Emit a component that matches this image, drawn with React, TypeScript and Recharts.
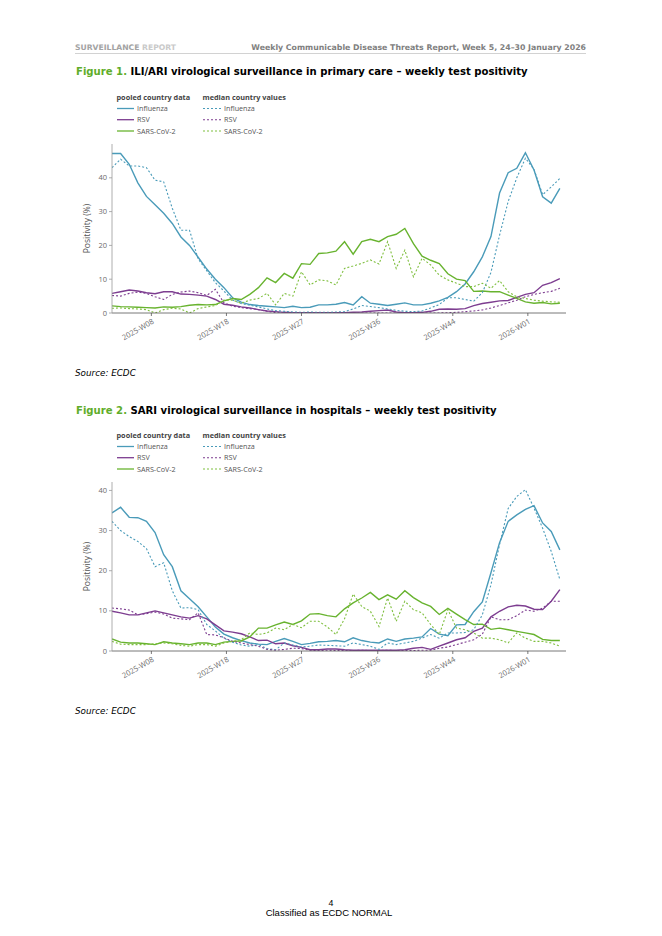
import React from 'react';
import { LineChart, Line, XAxis, YAxis, Label } from 'recharts';

// ---------- categories ----------
const weeks = [
  '2025-W04','2025-W05','2025-W06','2025-W07','2025-W08','2025-W09','2025-W10','2025-W11','2025-W12','2025-W13',
  '2025-W14','2025-W15','2025-W16','2025-W17','2025-W18','2025-W19','2025-W20','2025-W21','2025-W22','2025-W23',
  '2025-W24','2025-W25','2025-W26','2025-W27','2025-W28','2025-W29','2025-W30','2025-W31','2025-W32','2025-W33',
  '2025-W34','2025-W35','2025-W36','2025-W37','2025-W38','2025-W39','2025-W40','2025-W41','2025-W42','2025-W43',
  '2025-W44','2025-W45','2025-W46','2025-W47','2025-W48','2025-W49','2025-W50','2025-W51','2025-W52','2026-W01',
  '2026-W02','2026-W03','2026-W04',
];
// tick positions in days after the first week-ending date
const tickDays = [32, 93, 154, 216, 277, 338];
const tickLabels = ['2025-W08', '2025-W18', '2025-W27', '2025-W36', '2025-W44', '2026-W01'];
const yTicks1 = [0, 10, 20, 30, 40];
const yTicks2 = [0, 10, 20, 30, 40];

// ---------- Figure 1: ILI/ARI primary care ----------
const fluPooled1 = [47.2,47.2,44.0,38.5,34.5,32.0,29.5,26.5,22.5,20.0,16.5,13.0,10.0,7.5,4.5,3.2,2.5,2.2,2.0,1.8,1.6,2.0,1.6,1.7,2.4,2.4,2.6,3.1,2.4,4.8,2.9,2.6,2.2,2.6,3.0,2.4,2.4,2.9,3.6,4.6,6.3,8.6,12.2,16.6,22.6,35.5,41.5,42.8,47.4,42.3,34.4,32.5,36.9];
const fluMedian1 = [43.0,45.5,43.5,43.5,43.0,39.3,38.8,31.0,24.5,24.5,16.0,12.5,9.0,6.5,3.8,2.8,2.3,1.8,1.2,0.7,0.5,0.3,0.2,0.3,0.2,0.2,0.3,0.4,1.2,2.2,1.9,1.6,1.2,0.8,0.5,0.4,0.6,1.5,2.5,4.5,4.5,4.0,3.5,6.0,12.0,23.0,33.0,40.0,45.8,42.5,35.0,37.3,39.8];
const rsvPooled1 = [5.8,6.3,6.8,6.5,6.0,5.7,6.3,6.3,5.6,5.5,5.3,5.0,4.0,2.6,2.3,1.8,1.5,1.0,0.6,0.4,0.2,0.1,0.1,0.1,0.1,0.1,0.1,0.1,0.2,0.3,0.5,0.7,0.9,0.3,0.1,0.1,0.2,0.5,1.1,1.2,1.1,1.3,2.2,2.8,3.2,3.6,3.7,4.6,5.5,6.0,8.2,9.0,10.2];
const rsvMedian1 = [5.2,5.0,5.8,6.2,5.8,4.8,4.0,5.5,6.2,6.5,6.0,5.2,7.0,3.0,2.0,1.6,1.3,1.0,0.5,0.1,0.0,0.0,0.0,0.0,0.0,0.0,0.0,0.0,0.0,0.0,0.0,0.0,0.0,0.0,0.0,0.0,0.0,0.0,0.0,0.1,0.2,0.4,0.6,0.9,1.5,2.2,3.0,3.8,4.8,5.5,6.0,6.4,7.3];
const sarsPooled1 = [2.1,1.9,1.8,1.7,1.6,1.5,1.8,1.7,1.9,2.3,2.5,2.4,2.5,3.6,4.3,4.0,5.5,7.5,10.4,9.0,11.7,10.3,14.6,14.4,17.6,17.8,18.3,21.1,17.4,21.1,21.8,21.1,22.6,23.3,25.0,20.5,16.8,15.6,14.6,11.6,10.0,9.6,6.4,6.5,6.3,6.3,5.3,4.3,3.3,2.9,3.1,2.7,2.9];
const sarsMedian1 = [1.4,1.5,1.3,1.2,1.0,0.0,1.0,1.4,1.2,0.0,1.3,1.8,2.2,3.8,3.8,2.9,3.8,4.3,5.8,2.4,5.8,5.0,12.2,8.3,9.8,9.5,8.3,13.2,13.9,14.7,15.7,14.5,21.1,13.2,18.6,10.7,16.2,14.2,11.2,9.8,8.8,7.8,7.8,8.8,7.3,9.6,6.3,4.8,4.3,3.8,3.5,3.3,3.2];

// ---------- Figure 2: SARI hospitals ----------
const fluPooled2 = [34.4,35.8,33.3,33.2,32.3,29.5,24.0,21.0,15.0,13.0,11.0,8.5,6.0,4.2,3.3,2.6,2.0,1.7,1.6,2.4,3.1,2.4,1.6,1.9,2.3,2.4,2.6,2.3,3.3,2.6,2.2,2.0,3.0,2.4,3.0,3.2,3.5,5.6,4.2,3.8,6.5,6.6,9.8,12.2,19.5,27.0,32.3,33.9,35.3,36.2,31.9,29.8,25.2];
const fluMedian2 = [32.3,30.0,28.5,27.3,25.5,21.0,22.0,15.0,10.7,10.8,10.3,6.6,5.0,3.2,2.2,1.5,1.2,1.6,0.6,0.3,2.0,1.5,1.0,1.2,1.5,1.4,1.3,1.2,2.0,1.6,1.2,0.4,2.0,1.6,2.0,2.4,3.2,4.1,3.2,4.5,4.5,4.6,5.3,9.0,16.5,26.5,35.5,38.5,40.2,35.6,30.6,24.8,17.8];
const rsvPooled2 = [9.9,9.5,9.0,9.0,9.5,10.0,9.5,9.0,8.5,8.2,8.8,8.0,6.5,5.0,4.7,4.3,3.5,2.6,2.7,1.8,2.0,1.3,0.9,0.3,0.3,0.5,0.5,0.3,0.2,0.2,0.2,0.2,0.2,0.2,0.3,0.7,0.9,0.4,1.2,2.0,2.8,3.3,4.9,5.7,8.5,9.9,11.0,11.4,11.2,10.4,10.3,12.4,15.3];
const rsvMedian2 = [10.7,10.5,10.2,9.0,9.3,9.7,9.2,8.2,8.0,7.8,9.5,4.1,4.0,3.3,2.4,2.0,1.6,1.2,0.4,0.2,0.4,0.7,0.6,0.2,0.1,0.2,0.1,0.1,0.1,0.2,0.1,0.1,0.2,0.1,0.1,0.1,0.2,0.2,0.7,1.0,1.6,2.2,2.8,4.2,8.5,7.8,7.8,8.8,10.2,9.9,10.7,12.4,12.4];
const sarsPooled2 = [3.0,2.2,2.0,2.0,1.8,1.6,2.3,2.0,1.8,1.6,2.0,2.0,1.6,2.2,2.4,2.5,3.5,5.7,5.7,6.5,7.2,6.6,7.5,9.2,9.3,8.8,8.5,10.5,12.0,13.2,14.6,12.8,14.0,12.9,15.0,13.3,12.0,11.1,9.1,10.6,9.2,7.8,6.6,6.7,5.4,5.7,5.3,4.9,4.5,4.1,2.9,2.6,2.6];
const sarsMedian2 = [2.4,1.7,1.6,1.6,1.6,1.8,2.0,1.8,1.4,1.2,1.6,1.6,1.2,2.0,2.4,2.8,4.5,4.1,4.5,5.7,5.3,6.6,5.8,7.4,7.4,6.0,4.1,8.0,14.2,11.1,9.9,6.1,13.2,7.4,12.4,10.3,9.5,6.6,4.1,10.3,5.7,5.3,4.5,3.2,3.2,2.8,2.0,4.5,3.2,2.4,2.4,2.0,1.2];

// ---------- styles ----------
const FLU = '#4a9bb9';
const RSV = '#7d3d90';
const SARS = '#68b32f';
const SARS_MED = '#7fbf3f';
const GREEN_TITLE = '#5fad2a';
const AXIS_FONT = '"Open Sans", Arial, sans-serif';
const DOC_FONT = '"DejaVu Sans", Verdana, sans-serif';

type Row = { day: number; week: string; [k: string]: number | string };

function buildRows(fp: number[], fm: number[], rp: number[], rm: number[], sp: number[], sm: number[]): Row[] {
  return weeks.map((w, i) => ({
    week: w,
    day: i * 7,
    fluPooled: fp[i],
    fluMedian: fm[i],
    rsvPooled: rp[i],
    rsvMedian: rm[i],
    sarsPooled: sp[i],
    sarsMedian: sm[i],
  }));
}

const rows1 = buildRows(fluPooled1, fluMedian1, rsvPooled1, rsvMedian1, sarsPooled1, sarsMedian1);
const rows2 = buildRows(fluPooled2, fluMedian2, rsvPooled2, rsvMedian2, sarsPooled2, sarsMedian2);

const XTick = (props: any) => {
  const { x, y, payload } = props;
  const idx = tickDays.indexOf(payload.value);
  const label = idx >= 0 ? tickLabels[idx] : '';
  const ax = x + 2;
  const ay = y + 3;
  return (
    <text
      x={ax}
      y={ay}
      transform={`rotate(-30, ${ax}, ${ay})`}
      textAnchor="end"
      fontSize={7.5}
      fontFamily={AXIS_FONT}
      fill="#6b6b6b"
      dy="0.3em"
    >
      {label}
    </text>
  );
};

const YTick = (props: any) => {
  const { x, y, payload } = props;
  return (
    <text x={x} y={y} textAnchor="end" fontSize={7.5} fontFamily={AXIS_FONT} fill="#6b6b6b" dy="0.35em">
      {payload.value}
    </text>
  );
};

const YLabel = (props: any) => {
  const { viewBox } = props;
  const cx = viewBox.x + 15.5;
  const cy = viewBox.y + viewBox.height / 2;
  return (
    <text
      x={cx}
      y={cy}
      transform={`rotate(-90, ${cx}, ${cy})`}
      textAnchor="middle"
      dy="0.35em"
      fontSize={8.5}
      fontFamily={AXIS_FONT}
      fill="#555"
    >
      Positivity (%)
    </text>
  );
};

function Chart({ rows, yMax, yTicks, top }: { rows: Row[]; yMax: number; yTicks: number[]; top: number }) {
  return (
    <div style={{ position: 'absolute', left: 40, top }}>
      <LineChart width={560} height={230} data={rows} margin={{ top: 14, right: 34, bottom: 17, left: 32 }}>
        <XAxis
          type="number"
          dataKey="day"
          domain={[0, 369]}
          ticks={tickDays}
          interval={0}
          tick={<XTick />}
          tickSize={3}
          height={30}
          axisLine={{ stroke: '#555', strokeWidth: 0.8 }}
          tickLine={{ stroke: '#555', strokeWidth: 0.8 }}
          allowDataOverflow
        />
        <YAxis
          type="number"
          domain={[0, yMax]}
          ticks={yTicks}
          interval={0}
          tick={<YTick />}
          tickSize={3}
          width={40}
          axisLine={{ stroke: '#9a9a9a', strokeWidth: 0.8 }}
          tickLine={{ stroke: '#9a9a9a', strokeWidth: 0.8 }}
          allowDataOverflow
        >
          <Label content={<YLabel />} />
        </YAxis>
        <Line type="linear" dataKey="fluPooled" stroke={FLU} strokeWidth={1.4} dot={false} isAnimationActive={false} />
        <Line type="linear" dataKey="rsvPooled" stroke={RSV} strokeWidth={1.4} dot={false} isAnimationActive={false} />
        <Line type="linear" dataKey="sarsPooled" stroke={SARS} strokeWidth={1.4} dot={false} isAnimationActive={false} />
        <Line type="linear" dataKey="fluMedian" stroke={FLU} strokeWidth={1.1} strokeDasharray="2 2" dot={false} isAnimationActive={false} />
        <Line type="linear" dataKey="rsvMedian" stroke={RSV} strokeWidth={1.1} strokeDasharray="2 2" dot={false} isAnimationActive={false} />
        <Line type="linear" dataKey="sarsMedian" stroke={SARS_MED} strokeWidth={1.1} strokeDasharray="2 2" dot={false} isAnimationActive={false} />
      </LineChart>
    </div>
  );
}

const legendRows = [
  { name: 'Influenza', color: FLU, med: FLU },
  { name: 'RSV', color: RSV, med: RSV },
  { name: 'SARS-CoV-2', color: SARS, med: SARS_MED },
];

function LegendBlock({ y0 }: { y0: number }) {
  const rowY = [y0 + 11.5, y0 + 22.7, y0 + 34];
  return (
    <g fontFamily={AXIS_FONT}>
      <text x={116.5} y={y0 + 2.5} fontSize={7.3} fontWeight="bold" fill="#444">pooled country data</text>
      <text x={202.5} y={y0 + 2.5} fontSize={7.3} fontWeight="bold" fill="#444">median country values</text>
      {legendRows.map((r, i) => (
        <g key={r.name}>
          <line x1={117} x2={134} y1={rowY[i]} y2={rowY[i]} stroke={r.color} strokeWidth={1.3} />
          <text x={137} y={rowY[i] + 2.5} fontSize={7.2} fill="#555">{r.name}</text>
          <line x1={203} x2={221} y1={rowY[i]} y2={rowY[i]} stroke={r.med} strokeWidth={1.1} strokeDasharray="2 2" />
          <text x={224} y={rowY[i] + 2.5} fontSize={7.2} fill="#555">{r.name}</text>
        </g>
      ))}
    </g>
  );
}

export default function App() {
  return (
    <div style={{ position: 'absolute', left: 0, top: 0, width: 662, height: 936, background: '#fff', overflow: 'hidden' }}>
      <svg width={662} height={936} style={{ position: 'absolute', left: 0, top: 0 }}>
        {/* header */}
        <text x={75} y={49.8} fontFamily={DOC_FONT} fontSize={7.65} fontWeight="bold">
          <tspan fill="#a3a3a3">SURVEILLANCE</tspan>
          <tspan fill="#c9c9c9"> REPORT</tspan>
        </text>
        <text x={586} y={49.8} fontFamily={DOC_FONT} fontSize={7.8} fontWeight="bold" fill="#808080" textAnchor="end">
          Weekly Communicable Disease Threats Report, Week 5, 24–30 January 2026
        </text>
        <line x1={75} x2={586} y1={53.5} y2={53.5} stroke="#bfbfbf" strokeWidth={0.7} />

        {/* figure 1 title */}
        <text x={76} y={74.8} fontFamily={DOC_FONT} fontSize={10.1} fontWeight="bold" fill="#000">
          <tspan fill={GREEN_TITLE}>Figure 1.</tspan>
          <tspan> ILI/ARI virological surveillance in primary care – weekly test positivity</tspan>
        </text>
        <LegendBlock y0={97} />
        <text x={75} y={376} fontFamily={DOC_FONT} fontSize={8.8} fontStyle="italic" fill="#000">Source: ECDC</text>

        {/* figure 2 title */}
        <text x={76} y={413.5} fontFamily={DOC_FONT} fontSize={10.1} fontWeight="bold" fill="#000">
          <tspan fill={GREEN_TITLE}>Figure 2.</tspan>
          <tspan> SARI virological surveillance in hospitals – weekly test positivity</tspan>
        </text>
        <LegendBlock y0={435} />
        <text x={75} y={714} fontFamily={DOC_FONT} fontSize={8.8} fontStyle="italic" fill="#000">Source: ECDC</text>

        {/* footer */}
        <text x={331} y={906.3} fontFamily='"Liberation Sans", Arial, sans-serif' fontSize={8.8} fill="#000" textAnchor="middle">4</text>
        <text x={329} y={916.3} fontFamily='"Liberation Sans", Arial, sans-serif' fontSize={9.5} fill="#000" textAnchor="middle">
          Classified as ECDC NORMAL
        </text>
      </svg>
      <Chart rows={rows1} yMax={50} yTicks={yTicks1} top={130} />
      <Chart rows={rows2} yMax={42.1} yTicks={yTicks2} top={468} />
    </div>
  );
}
